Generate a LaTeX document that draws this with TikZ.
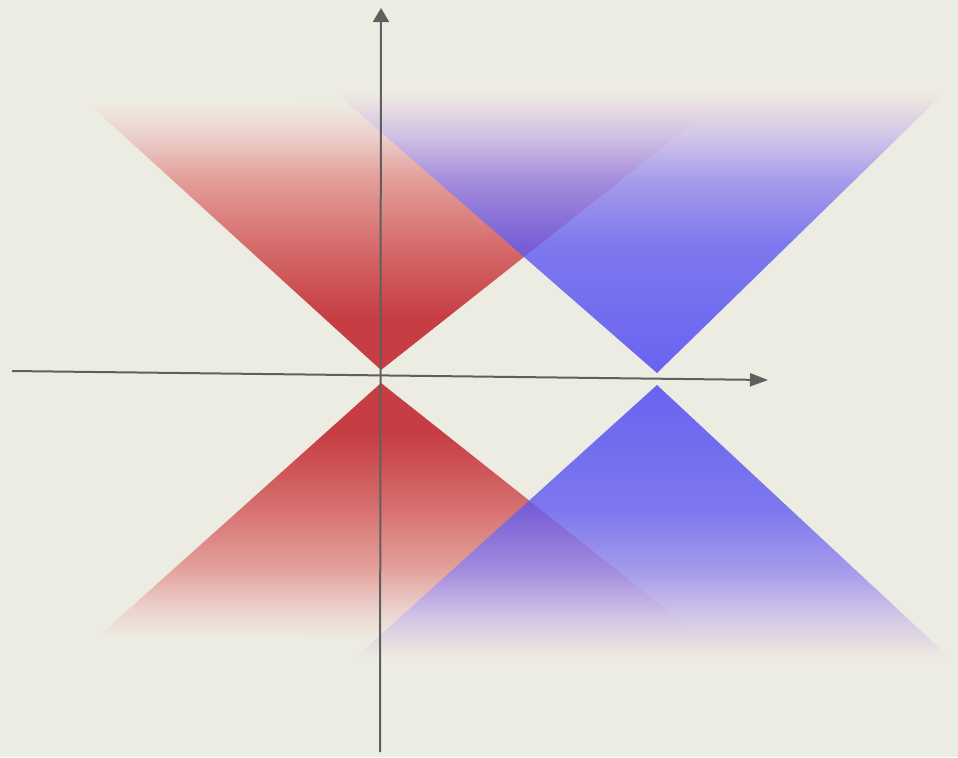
\documentclass[tikz,border=0pt]{standalone}
\usetikzlibrary{arrows.meta}
\definecolor{bg}{RGB}{237,236,226}
\definecolor{rA}{RGB}{198,62,68}
\definecolor{rB}{RGB}{212,105,105}
\definecolor{rC}{RGB}{228,160,155}
\definecolor{rD}{RGB}{236,210,205}
\definecolor{bA}{RGB}{72,66,244}
\definecolor{bB}{RGB}{97,91,241}
\definecolor{bC}{RGB}{147,135,237}
\definecolor{bD}{RGB}{201,188,234}
\definecolor{bE}{RGB}{228,216,225}
\definecolor{axisgray}{RGB}{95,95,95}
\pgfdeclareverticalshading{redup}{100bp}{color(0bp)=(rA); color(25bp)=(rA); color(35bp)=(rA); color(47.5bp)=(rB); color(61bp)=(rC); color(69bp)=(rD); color(75bp)=(bg); color(100bp)=(bg)}
\pgfdeclareverticalshading{reddown}{100bp}{color(0bp)=(bg); color(25bp)=(bg); color(31bp)=(rD); color(39bp)=(rC); color(52.5bp)=(rB); color(65bp)=(rA); color(75bp)=(rA); color(100bp)=(rA)}
\pgfdeclareverticalshading{blueup}{100bp}{color(0bp)=(bA); color(25bp)=(bA); color(47.5bp)=(bB); color(59bp)=(bC); color(67bp)=(bD); color(72bp)=(bE); color(75bp)=(bg); color(100bp)=(bg)}
\pgfdeclareverticalshading{bluedown}{100bp}{color(0bp)=(bg); color(25bp)=(bg); color(28bp)=(bE); color(33bp)=(bD); color(41bp)=(bC); color(52.5bp)=(bB); color(75bp)=(bA); color(100bp)=(bA)}
\tikzset{
  axisline/.style={draw=axisgray, line width=1pt},
  bluecone/.style={fill opacity=0.8}
}
\begin{document}
\begin{tikzpicture}[x=0.5pt,y=-0.5pt]
\fill[bg] (0,0) rectangle (958,757);
\useasboundingbox (0,0) rectangle (958,757);
% red cone (origin)
\shade[shading=redup] (381,370) -- (90,105) -- (720,102) -- cycle;
\shade[shading=reddown] (381,383) -- (100,635) -- (705,640) -- cycle;
% blue cone
\shade[shading=blueup, bluecone] (657,373) -- (335,92) -- (945,92) -- cycle;
\shade[shading=bluedown, bluecone] (657,385) -- (355,658) -- (950,658) -- cycle;
% axes
\coordinate (xs) at (12,371);
\coordinate (xe) at (768,380);
\coordinate (ys) at (380,752);
\coordinate (ye) at (381,8);
\draw[axisline, -{Triangle[length=9pt,width=6.5pt]}] (xs) -- (xe);
\draw[axisline, -{Triangle[length=7pt,width=8pt]}] (ys) -- (ye);
\end{tikzpicture}
\end{document}
